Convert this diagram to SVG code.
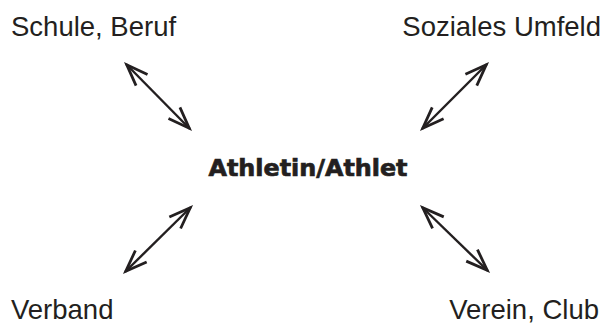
<svg xmlns="http://www.w3.org/2000/svg" width="603" height="324" viewBox="0 0 603 324">
  <style>
    .label { font-family: "Liberation Sans", Arial, Helvetica, sans-serif; font-size: 27.5px; fill: #231f20; }
    .center { font-family: "DejaVu Sans", "Liberation Sans", sans-serif; font-weight: bold; font-size: 23px; fill: #231f20; stroke: #231f20; stroke-width: 0.7; }
    .link { stroke: #231f20; stroke-width: 2.4; fill: none; marker-start: url(#head); marker-end: url(#head); }
  </style>
  <defs>
    <!-- open V arrowhead used on both ends of every connector -->
    <marker id="head" markerUnits="userSpaceOnUse" markerWidth="30" markerHeight="30" viewBox="-25 -12 28 24" refX="0" refY="0" orient="auto-start-reverse" overflow="visible">
      <path d="M-21,-7.5 L-1,0 L-21,7.5" fill="none" stroke="#231f20" stroke-width="2.6" stroke-linejoin="miter"/>
    </marker>
  </defs>
  <rect width="603" height="324" fill="#ffffff"/>

  <g id="athlete">
    <text class="center" x="308" y="176" text-anchor="middle" textLength="199" lengthAdjust="spacingAndGlyphs">Athletin/Athlet</text>
  </g>
  <g id="schule-beruf">
    <text class="label" x="11" y="36">Schule, Beruf</text>
  </g>
  <g id="soziales-umfeld">
    <text class="label" x="601" y="36" text-anchor="end">Soziales Umfeld</text>
  </g>
  <g id="verband">
    <text class="label" x="11" y="319">Verband</text>
  </g>
  <g id="verein-club">
    <text class="label" x="599" y="319" text-anchor="end">Verein, Club</text>
  </g>

  <g id="connectors">
    <line class="link" x1="126" y1="64" x2="190" y2="129"/>
    <line class="link" x1="487" y1="64" x2="422" y2="129"/>
    <line class="link" x1="191" y1="207" x2="125" y2="272"/>
    <line class="link" x1="422" y1="207" x2="488" y2="271"/>
  </g>
</svg>
